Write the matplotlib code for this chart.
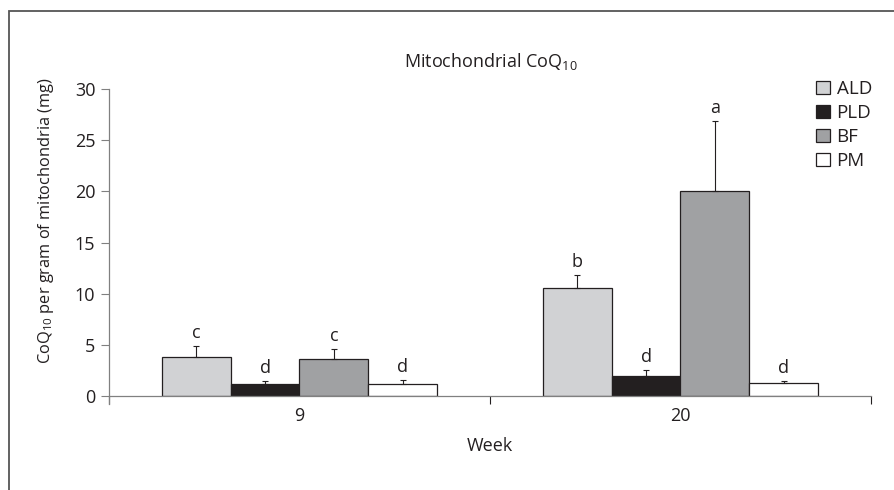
import matplotlib
matplotlib.use("Agg")
import matplotlib.pyplot as plt
from matplotlib.patches import Patch, Rectangle
import numpy as np

plt.rcParams['font.family'] = ['Open Sans', 'DejaVu Sans']
plt.rcParams['mathtext.fontset'] = 'custom'
plt.rcParams['mathtext.rm'] = 'Open Sans'
plt.rcParams['mathtext.it'] = 'Open Sans'

weeks = ['9', '20']
groups = ['ALD', 'PLD', 'BF', 'PM']
means = {
    'ALD': [3.75, 10.5],
    'PLD': [1.15, 1.9],
    'BF':  [3.55, 20.0],
    'PM':  [1.15, 1.25],
}
errors = {
    'ALD': [1.1, 1.3],
    'PLD': [0.25, 0.6],
    'BF':  [1.0, 6.9],
    'PM':  [0.4, 0.2],
}
letters = {
    'ALD': ['c', 'b'],
    'PLD': ['d', 'd'],
    'BF':  ['c', 'a'],
    'PM':  ['d', 'd'],
}
colors = {'ALD': '#d1d2d4', 'PLD': '#231f20', 'BF': '#a0a1a3', 'PM': '#ffffff'}
ink = '#231f20'
axis_grey = '#808080'
fs = 13

W, H = 895, 490
fig = plt.figure(figsize=(W / 100, H / 100), dpi=100)
ax = fig.add_axes([109 / W, 1 - 395.7 / H, (871 - 109) / W, (395.7 - 89.3) / H])

x = np.arange(len(weeks))
bw = 0.181
for i, g in enumerate(groups):
    pos = x + (i - 1.5) * bw
    ax.bar(pos, means[g], width=bw, color=colors[g], edgecolor=ink, linewidth=0.9, zorder=2)
    ax.errorbar(pos, means[g], yerr=[np.zeros(len(weeks)), errors[g]], fmt='none',
                ecolor=ink, elinewidth=0.8, capsize=2.3, capthick=0.8, zorder=3)
    for p, m, e, lt in zip(pos, means[g], errors[g], letters[g]):
        ax.annotate(lt, (p, m + e), xytext=(0, 6), textcoords='offset points',
                    ha='center', va='baseline', fontsize=fs, color=ink)

ax.set_xlim(-0.5, 1.5)
ax.set_ylim(0, 30)
ax.set_yticks([0, 5, 10, 15, 20, 25, 30])
ax.set_xticks(x)
ax.set_xticklabels(weeks)
ax.set_xticks([-0.5, 0.5, 1.5], minor=True)
ax.tick_params(axis='x', which='major', length=0, pad=8, labelsize=fs, labelcolor=ink)
ax.tick_params(axis='x', which='minor', length=5.5, width=0.8, color=ink, direction='out')
ax.tick_params(axis='y', length=5.8, width=0.8, color=axis_grey, pad=4, labelsize=fs, labelcolor=ink)
for s in ['top', 'right']:
    ax.spines[s].set_visible(False)
for s in ['left', 'bottom']:
    ax.spines[s].set_color(axis_grey)
    ax.spines[s].set_linewidth(0.9)
ax.spines['left'].set_bounds(-0.8, 30)

fig.text(490 / W, 1 - 446 / H, 'Week', ha='center', va='center', fontsize=fs, color=ink)
fig.text(491 / W, 1 - 62 / H, r'Mitochondrial CoQ$_{10}$', ha='center', va='center',
         fontsize=fs, color=ink)
fig.text(46.5 / W, 1 - 221 / H, r'CoQ$_{10}$ per gram of mitochondria (mg)', rotation=90,
         ha='center', va='center', fontsize=11.8, color=ink)

handles = [Patch(facecolor=colors[g], edgecolor=ink, linewidth=0.9) for g in groups]
fig.legend(handles, groups, loc='upper left', bbox_to_anchor=(815.7 / W, 1 - 80 / H),
           frameon=False, borderpad=0, borderaxespad=0, handlelength=0.75, handleheight=0.75,
           handletextpad=0.36, labelspacing=0.32, fontsize=13.5, labelcolor=ink)

fig.add_artist(Rectangle((9 / W, -0.1), 1.2, 1.1 - 11 / H, transform=fig.transFigure,
                         fill=False, edgecolor='#555555', linewidth=1.3, clip_on=False))

fig.savefig('out.png', dpi=100)
